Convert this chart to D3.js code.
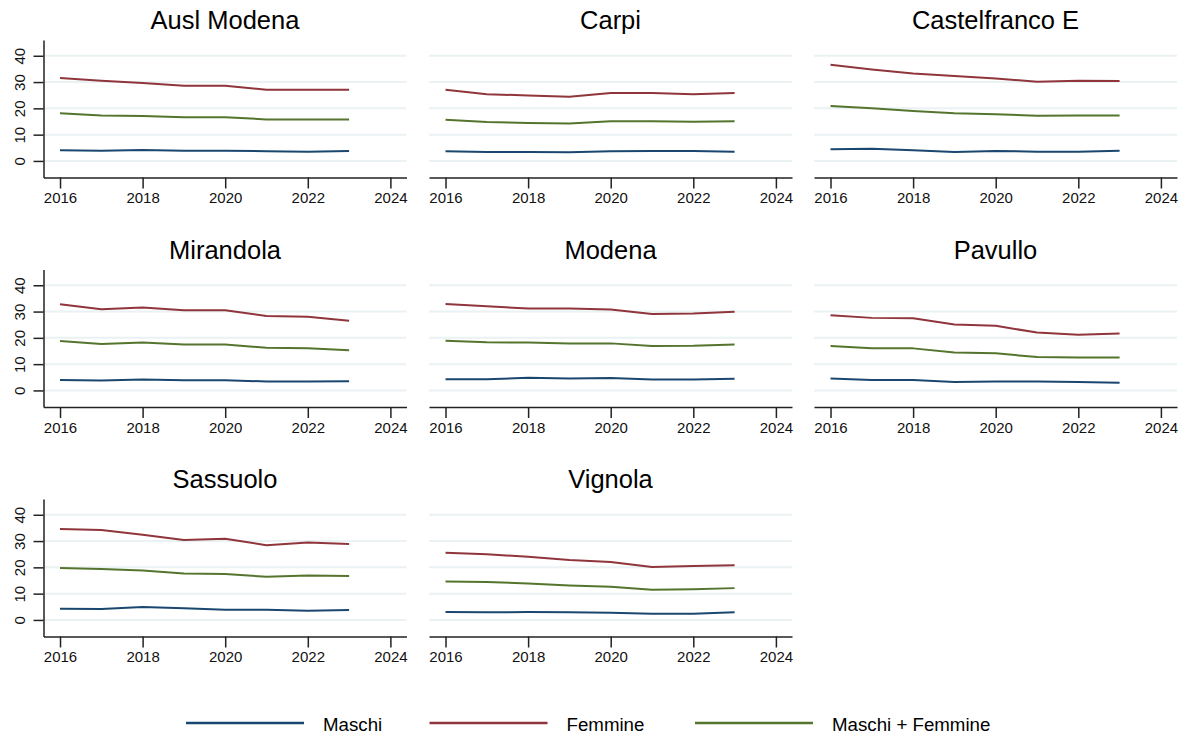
<!DOCTYPE html>
<html>
<head>
<meta charset="utf-8">
<script src="https://cdn.jsdelivr.net/npm/d3@7"></script>
<style>
  html, body { margin: 0; padding: 0; background: #fff; }
  svg { display: block; font-family: "Liberation Sans", Arial, Helvetica, sans-serif; }
</style>
</head>
<body>
<svg id="chart" width="1184" height="736"></svg>
<script>
const years = [2016, 2017, 2018, 2019, 2020, 2021, 2022, 2023];
const regions = ["Ausl Modena", "Carpi", "Castelfranco E", "Mirandola", "Modena", "Pavullo", "Sassuolo", "Vignola"];
const xTicks = [2016, 2018, 2020, 2022, 2024];
const yTicks = [0, 10, 20, 30, 40];
const seriesNames = ["Maschi", "Femmine", "Maschi + Femmine"];

const maschi = [
  [4.1, 3.9, 4.2, 3.9, 3.9, 3.7, 3.5, 3.8],
  [3.7, 3.4, 3.4, 3.3, 3.7, 3.8, 3.8, 3.5],
  [4.4, 4.6, 4.1, 3.4, 3.8, 3.5, 3.5, 3.9],
  [4.0, 3.8, 4.2, 3.9, 3.9, 3.4, 3.4, 3.5],
  [4.3, 4.3, 4.8, 4.5, 4.7, 4.2, 4.2, 4.4],
  [4.5, 4.0, 4.0, 3.2, 3.4, 3.4, 3.2, 2.9],
  [4.3, 4.2, 4.9, 4.4, 3.9, 3.9, 3.5, 3.8],
  [3.0, 2.9, 3.0, 2.9, 2.7, 2.4, 2.4, 2.9]
];
const femmine = [
  [31.5, 30.5, 29.6, 28.6, 28.6, 27.1, 27.1, 27.1],
  [27.1, 25.4, 24.9, 24.4, 25.8, 25.8, 25.4, 25.8],
  [36.6, 34.8, 33.3, 32.3, 31.4, 30.1, 30.5, 30.4],
  [32.8, 30.9, 31.5, 30.5, 30.5, 28.3, 28.0, 26.5],
  [32.9, 32.0, 31.2, 31.2, 30.8, 29.1, 29.3, 29.9],
  [28.6, 27.6, 27.5, 25.1, 24.6, 22.0, 21.2, 21.7],
  [34.6, 34.2, 32.4, 30.4, 30.9, 28.4, 29.5, 28.9],
  [25.6, 25.0, 24.0, 22.8, 22.0, 20.1, 20.5, 20.8]
];
const totale = [
  [18.1, 17.3, 17.1, 16.6, 16.6, 15.8, 15.8, 15.8],
  [15.7, 14.8, 14.4, 14.2, 15.1, 15.1, 14.9, 15.1],
  [20.9, 20.0, 19.0, 18.1, 17.8, 17.2, 17.3, 17.3],
  [18.8, 17.7, 18.2, 17.5, 17.5, 16.2, 16.0, 15.3],
  [18.9, 18.3, 18.2, 17.9, 17.9, 16.9, 17.0, 17.5],
  [16.9, 16.0, 16.0, 14.4, 14.1, 12.7, 12.5, 12.5],
  [19.8, 19.4, 18.8, 17.7, 17.5, 16.4, 16.9, 16.7],
  [14.6, 14.4, 13.9, 13.1, 12.6, 11.5, 11.7, 12.1]
];

const colors = ["#1a476f", "#90353b", "#55752f"];
const seriesData = [maschi, femmine, totale];

const svg = d3.select("#chart");
const colLeft = [43.5, 429, 814];
const rowTop = [40, 269.5, 499];
const pw = 363, ph = 137.5;

const x = d3.scaleLinear().domain([2015.6, 2024.39]).range([0, pw]);
const y = d3.scaleLinear().domain([-6.3, 46.0]).range([ph, 0]);

const line = d3.line().x((d, i) => x(years[i])).y(d => y(d));

regions.forEach((name, r) => {
  const col = r % 3, row = Math.floor(r / 3);
  const g = svg.append("g").attr("transform", `translate(${colLeft[col]},${rowTop[row]})`);

  // gridlines
  g.selectAll("line.grid").data(yTicks).enter().append("line")
    .attr("class", "grid")
    .attr("x1", 0).attr("x2", pw)
    .attr("y1", d => y(d)).attr("y2", d => y(d))
    .attr("stroke", "#eaf2f3").attr("stroke-width", 2);

  // title
  g.append("text")
    .attr("x", pw / 2).attr("y", -11)
    .attr("text-anchor", "middle")
    .attr("font-size", 25.5)
    .attr("fill", "#000")
    .text(name);

  // x axis
  const xa = g.append("g").attr("transform", `translate(0,${ph})`)
    .call(d3.axisBottom(x).tickValues(xTicks).tickFormat(d3.format("d")).tickSize(11).tickSizeOuter(0).tickPadding(4));
  xa.select(".domain").attr("stroke", "#222").attr("stroke-width", 1.5);
  xa.selectAll(".tick line").attr("stroke", "#222").attr("stroke-width", 1.5);
  xa.selectAll(".tick text").attr("font-size", 15).attr("fill", "#111")
    .attr("font-family", "'Liberation Sans', Arial, sans-serif");

  // y axis (first column only)
  if (col === 0) {
    const ya = g.append("g")
      .call(d3.axisLeft(y).tickValues(yTicks).tickSize(10).tickSizeOuter(0).tickPadding(0));
    ya.select(".domain").attr("stroke", "#222").attr("stroke-width", 1.5);
    ya.selectAll(".tick line").attr("stroke", "#222").attr("stroke-width", 1.5);
    ya.selectAll(".tick text")
      .attr("font-size", 15).attr("fill", "#111")
      .attr("font-family", "'Liberation Sans', Arial, sans-serif")
      .attr("x", null).attr("dy", null)
      .attr("text-anchor", "middle")
      .attr("transform", "translate(-19,0) rotate(-90)");
  }

  // series lines
  seriesData.forEach((s, k) => {
    g.append("path")
      .datum(s[r])
      .attr("fill", "none")
      .attr("stroke", colors[k])
      .attr("stroke-width", 2)
      .attr("stroke-linejoin", "round")
      .attr("d", line);
  });
});

// legend
const legendX = [186, 429.5, 695];
const lg = svg.append("g");
seriesNames.forEach((n, k) => {
  lg.append("line")
    .attr("x1", legendX[k]).attr("x2", legendX[k] + 118)
    .attr("y1", 723).attr("y2", 723)
    .attr("stroke", colors[k]).attr("stroke-width", 2.5);
  lg.append("text")
    .attr("x", legendX[k] + 137).attr("y", 730.5)
    .attr("font-size", 18.7).attr("fill", "#000")
    .text(n);
});
</script>
</body>
</html>
